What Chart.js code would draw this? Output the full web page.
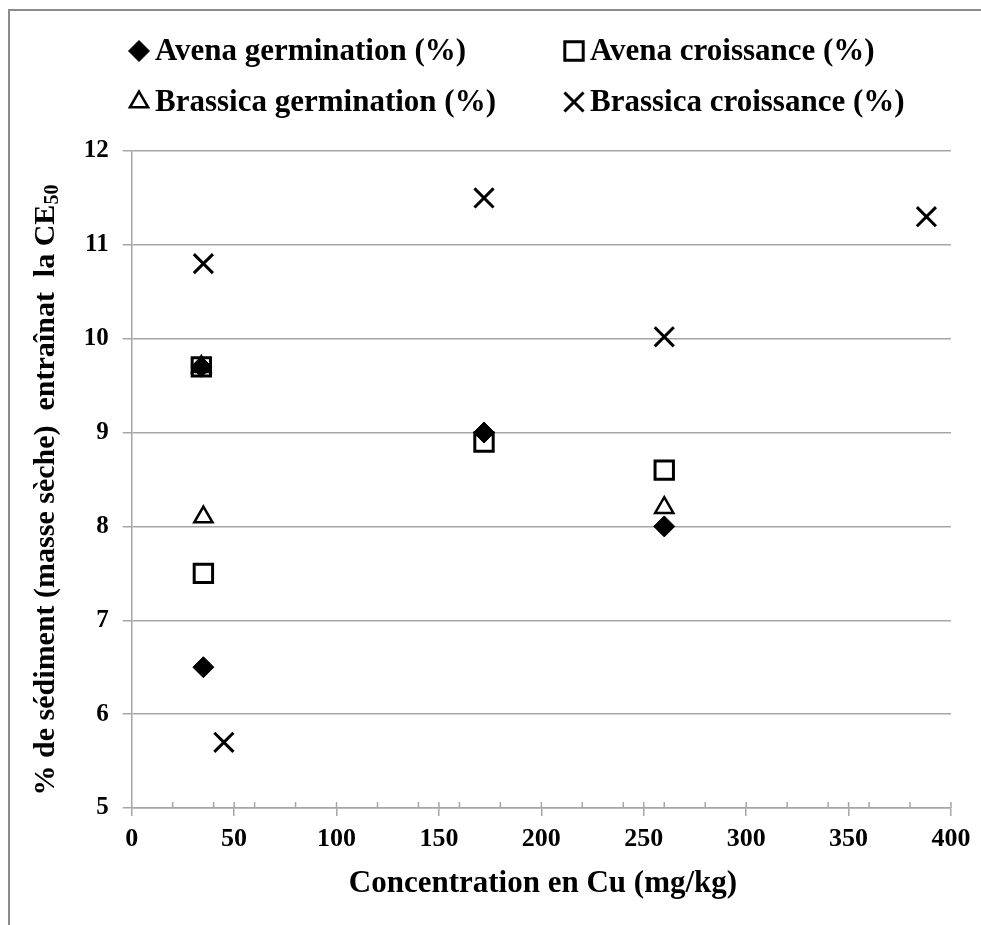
<!DOCTYPE html>
<html>
<head>
<meta charset="utf-8">
<script src="https://cdn.jsdelivr.net/npm/chart.js"></script>
<style>
  html, body { margin: 0; padding: 0; background: #fff; }
  #wrap { width: 981px; height: 925px; }
</style>
</head>
<body>
<div id="wrap"><canvas id="cuChart" width="981" height="925"></canvas></div>
<script>
// Valeurs lues : concentration en Cu (mg/kg) et % de sédiment entraînant la CE50
const avenaGermX = [34, 35, 172, 260];
const avenaGermY = [9.7, 6.5, 9.0, 8.0];
const avenaCroisX = [34, 35, 172, 260];
const avenaCroisY = [9.7, 7.5, 8.9, 8.6];
const brassicaGermX = [34, 35, 260];
const brassicaGermY = [9.7, 8.1, 8.2];
const brassicaCroisX = [35, 45, 172, 260, 388];
const brassicaCroisY = [10.8, 5.7, 11.5, 10.02, 11.3];

const seriesNames = [
  'Avena germination (%)', 'Avena croissance (%)',
  'Brassica germination (%)', 'Brassica croissance (%)'
];
const xTicks = [0, 50, 100, 150, 200, 250, 300, 350, 400];
const yTicks = [5, 6, 7, 8, 9, 10, 11, 12];

const FONT = "'Liberation Serif', 'Times New Roman', serif";
const GRID = '#a6a6a6';

function toPoints(xs, ys) {
  return xs.map((x, i) => ({ x: x, y: ys[i] }));
}

// style des marqueurs, repris aussi dans la légende
const markers = [
  { pointStyle: 'rectRot', pointRadius: 10.5, pointBackgroundColor: '#000', pointBorderColor: '#000', pointBorderWidth: 1 },
  { pointStyle: 'rect', pointRadius: 13, pointBackgroundColor: 'rgba(0,0,0,0)', pointBorderColor: '#000', pointBorderWidth: 3 },
  { pointStyle: 'triangle', pointRadius: 10.5, pointBackgroundColor: 'rgba(0,0,0,0)', pointBorderColor: '#000', pointBorderWidth: 2.5 },
  { pointStyle: 'crossRot', pointRadius: 13.5, pointBackgroundColor: '#000', pointBorderColor: '#000', pointBorderWidth: 3 }
];

const seriesData = [
  toPoints(avenaGermX, avenaGermY),
  toPoints(avenaCroisX, avenaCroisY),
  toPoints(brassicaGermX, brassicaGermY),
  toPoints(brassicaCroisX, brassicaCroisY)
];

// cadre, graduations secondaires, titres des axes et légende en deux colonnes
const decor = {
  id: 'decor',
  beforeDraw(chart) {
    const ctx = chart.ctx;
    ctx.save();
    ctx.fillStyle = '#fff';
    ctx.fillRect(0, 0, chart.width, chart.height);
    ctx.restore();
  },
  afterDraw(chart) {
    const ctx = chart.ctx;
    const xs = chart.scales.x;
    const area = chart.chartArea;
    ctx.save();

    // bordure extérieure
    ctx.strokeStyle = '#8c8c8c';
    ctx.lineWidth = 2;
    ctx.beginPath();
    ctx.moveTo(9, chart.height);
    ctx.lineTo(9, 10);
    ctx.lineTo(chart.width, 10);
    ctx.stroke();

    // petites graduations vers l'intérieur sur l'axe des x
    ctx.strokeStyle = GRID;
    ctx.lineWidth = 1.5;
    for (let v = 20; v <= 400; v += 10) {
      if (v % 20 !== 0 && v % 50 !== 0) continue;
      const px = xs.getPixelForValue(v);
      ctx.beginPath();
      ctx.moveTo(px, area.bottom);
      ctx.lineTo(px, area.bottom - 6);
      ctx.stroke();
    }

    ctx.fillStyle = '#000';
    // titre axe x
    ctx.font = 'bold 31px ' + FONT;
    ctx.textAlign = 'center';
    ctx.textBaseline = 'middle';
    ctx.fillText('Concentration en Cu (mg/kg)', 543, 884);

    // titre axe y avec indice
    const main = '% de sédiment (masse sèche)  entraînat  la CE';
    const sub = '50';
    ctx.translate(46, 490);
    ctx.rotate(-Math.PI / 2);
    ctx.textAlign = 'left';
    ctx.font = 'bold 30px ' + FONT;
    const w1 = ctx.measureText(main).width;
    ctx.font = 'bold 20px ' + FONT;
    const w2 = ctx.measureText(sub).width;
    const start = -(w1 + w2) / 2;
    ctx.font = 'bold 30px ' + FONT;
    ctx.fillText(main, start, 0);
    ctx.font = 'bold 20px ' + FONT;
    ctx.fillText(sub, start + w1, 7);
    ctx.setTransform(1, 0, 0, 1, 0, 0);

    // légende
    const cols = [139, 574];
    const rows = [51, 102];
    ctx.font = 'bold 31px ' + FONT;
    ctx.textAlign = 'left';
    ctx.textBaseline = 'middle';
    seriesNames.forEach((name, i) => {
      const mx = cols[i % 2];
      const my = rows[Math.floor(i / 2)];
      const m = markers[i];
      ctx.fillStyle = m.pointBackgroundColor;
      ctx.strokeStyle = m.pointBorderColor;
      ctx.lineWidth = m.pointBorderWidth;
      Chart.helpers.drawPoint(ctx, {
        pointStyle: m.pointStyle,
        radius: m.pointRadius,
        rotation: 0,
        borderWidth: m.pointBorderWidth
      }, mx, my);
      ctx.fillStyle = '#000';
      ctx.fillText(name, mx + 16, my + 1);
    });
    ctx.restore();
  }
};

const ctx = document.getElementById('cuChart').getContext('2d');
const cuChart = new Chart(ctx, {
  type: 'scatter',
  data: {
    datasets: seriesNames.map((name, i) => Object.assign({
      label: name,
      data: seriesData[i],
      showLine: false
    }, markers[i]))
  },
  options: {
    responsive: false,
    animation: false,
    layout: { padding: { top: 151, right: 30, left: 0, bottom: 0 } },
    plugins: {
      legend: { display: false },
      tooltip: { enabled: false }
    },
    scales: {
      x: {
        type: 'linear',
        min: 0,
        max: 400,
        afterBuildTicks(scale) { scale.ticks = xTicks.map(v => ({ value: v })); },
        afterFit(scale) { scale.height = 117; },
        ticks: {
          color: '#000',
          padding: 8,
          font: { family: FONT, size: 26, weight: 'bold' }
        },
        grid: { drawOnChartArea: false, color: GRID, lineWidth: 1.5, tickLength: 8 },
        border: { color: GRID, width: 1.5 }
      },
      y: {
        type: 'linear',
        min: 5,
        max: 12,
        afterBuildTicks(scale) { scale.ticks = yTicks.map(v => ({ value: v })); },
        afterFit(scale) { scale.width = 131.7; },
        ticks: {
          color: '#000',
          padding: 14,
          font: { family: FONT, size: 25, weight: 'bold' }
        },
        grid: { color: GRID, lineWidth: 1.5, tickLength: 9 },
        border: { color: GRID, width: 1.5 }
      }
    }
  },
  plugins: [decor]
});
</script>
</body>
</html>
